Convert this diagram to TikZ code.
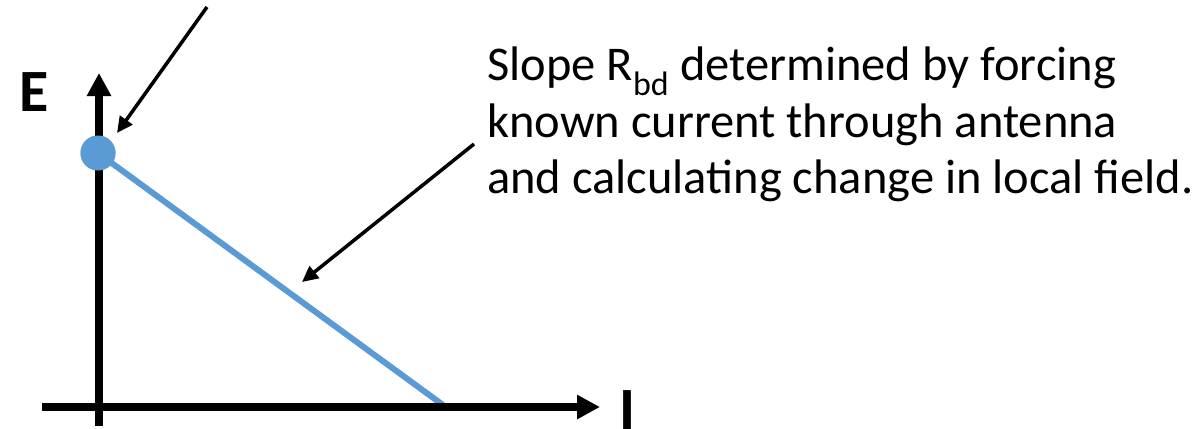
\documentclass[tikz,border=0pt]{standalone}
\usepackage{fontspec}
\setmainfont{Carlito}
\usepackage{xcolor}
\usetikzlibrary{arrows.meta,positioning}
\definecolor{lineblue}{HTML}{5B9BD5}

\begin{document}
\begin{tikzpicture}[x=1pt, y=-1pt,
  axis/.style={line width=8pt, -{Triangle[length=23pt,width=23pt]}},
  pointer/.style={line width=3.5pt, -{Triangle[length=16pt,width=15pt]}},
  caption/.style={anchor=base west, inner sep=0pt, font=\fontsize{48.5}{56}\selectfont},
  axlabel/.style={anchor=base west, inner sep=0pt, font=\bfseries\fontsize{60}{60}\selectfont}]
\useasboundingbox (0,0) rectangle (1193,428);
% axes
\coordinate (ybot) at (99,426);
\coordinate (ytop) at (99,73);
\coordinate (xleft) at (42,407);
\coordinate (xright) at (600,407);
\coordinate (xcut) at (443,405);
\node[circle, fill=lineblue, minimum size=35pt, inner sep=0pt] (dot) at (98,153) {};
\draw[line width=6pt, lineblue] (dot.center) -- (xcut);
\draw[axis] (ybot) -- (ytop);
\draw[axis] (xleft) -- (xright);
\node[circle, fill=lineblue, minimum size=35pt, inner sep=0pt] at (dot) {};
\node[axlabel] (elabel) at (19,111) {E};
\node[axlabel] (ilabel) at (619,429) {I};
% caption
\node[caption] (line1) at (487,80) {Slope R\textsubscript{bd} determined by forcing};
\node[caption] (line2) at (487,137) {known current through antenna};
\node[caption] (line3) at (487,193) {and calculating change in local field.};
% pointers
\coordinate (p1start) at (207,7);
\coordinate (p1end) at (117,133);
\coordinate (p2start) at (474,144);
\coordinate (p2end) at (302,282);
\draw[pointer] (p1start) -- (p1end);
\draw[pointer] (p2start) -- (p2end);
\end{tikzpicture}
\end{document}
